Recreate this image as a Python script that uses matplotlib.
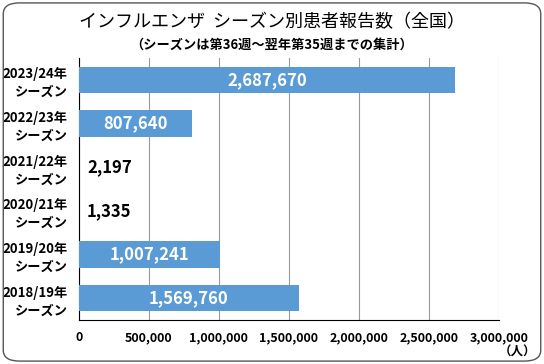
import matplotlib
matplotlib.use("Agg")
import matplotlib.pyplot as plt
from matplotlib.patches import FancyBboxPatch

plt.rcParams['font.family'] = ['Noto Sans CJK JP', 'DejaVu Sans']

seasons = ["2023/24年\nシーズン", "2022/23年\nシーズン", "2021/22年\nシーズン",
           "2020/21年\nシーズン", "2019/20年\nシーズン", "2018/19年\nシーズン"]
values = [2687670, 807640, 2197, 1335, 1007241, 1569760]
xticks = [0, 500000, 1000000, 1500000, 2000000, 2500000, 3000000]

fig = plt.figure(figsize=(5.44, 3.64), dpi=100)
fig.patch.set_facecolor('white')
border = FancyBboxPatch((0.006, 0.008), 0.988, 0.984, boxstyle="round,pad=0,rounding_size=0.03",
                        transform=fig.transFigure, fill=False, edgecolor='#555555', linewidth=1.0)
fig.patches.append(border)

ax = fig.add_axes([0.145, 0.121, 0.772, 0.72])
y = list(range(len(values)))
ax.barh(y, values, height=0.6, color='#5b9bd5', zorder=3)
ax.set_ylim(len(values) - 0.5, -0.5)
ax.set_xlim(0, 3000000)
ax.set_yticks(y)
ax.set_yticklabels(seasons, fontsize=9.5, fontweight='bold', linespacing=1.35)
ax.set_xticks(xticks)
ax.set_xticklabels([f"{v:,}" for v in xticks], fontsize=9, fontweight='bold')
ax.tick_params(axis='both', length=0)
ax.tick_params(axis='y', pad=8)
ax.tick_params(axis='x', pad=8)
ax.grid(axis='x', color='#999999', linewidth=0.8, zorder=0)
for s in ['top', 'right']:
    ax.spines[s].set_visible(False)
ax.spines['left'].set_color('black')
ax.spines['bottom'].set_color('black')

for yi, v in zip(y, values):
    if v > 300000:
        ax.text(v / 2, yi, f"{v:,}", ha='center', va='center', color='white',
                fontsize=12, fontweight='bold', zorder=4)
    else:
        ax.text(v + 55000, yi, f"{v:,}", ha='left', va='center', color='black',
                fontsize=12, fontweight='bold', zorder=4)

fig.text(0.5, 0.94, "インフルエンザ  シーズン別患者報告数（全国）", ha='center', va='center', fontsize=13)
fig.text(0.5, 0.878, "（シーズンは第36週～翌年第35週までの集計）", ha='center', va='center', fontsize=9.5, fontweight='bold')
fig.text(0.985, 0.033, "（人）", ha='right', va='center', fontsize=9, fontweight='bold')

fig.savefig("out.png", dpi=100)
